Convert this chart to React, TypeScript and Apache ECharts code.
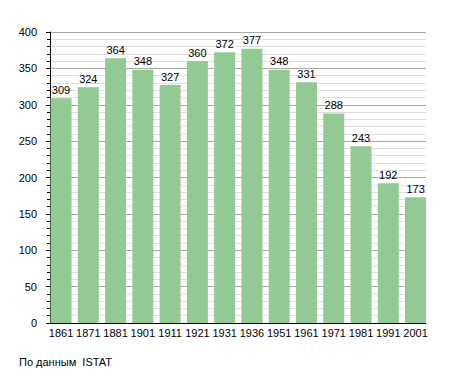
import React, { useEffect, useRef } from "react";
import * as echarts from "echarts";

const years = ["1861", "1871", "1881", "1901", "1911", "1921", "1931", "1936", "1951", "1961", "1971", "1981", "1991", "2001"];
const population = [309, 324, 364, 348, 327, 360, 372, 377, 348, 331, 288, 243, 192, 173];
const yMin = 0;
const yMax = 400;
const yStep = 50;
const sourceNote = "По данным  ISTAT";

export default function App() {
  const ref = useRef<HTMLDivElement>(null);
  useEffect(() => {
    if (!ref.current) return;
    const chart = echarts.init(ref.current, null, { renderer: "svg" });
    const font = "'Liberation Sans', Arial, sans-serif";
    chart.setOption({
      animation: false,
      backgroundColor: "#ffffff",
      grid: [
        { left: 50, width: 376, top: 32, height: 291 },
        { left: 47.4, width: 381.8, top: 32, height: 291 },
      ],
      xAxis: [
        {
          gridIndex: 0,
          type: "value",
          min: 0,
          max: 1,
          axisLine: { show: true, lineStyle: { color: "#000", width: 1 } },
          axisTick: { show: false },
          axisLabel: { show: false },
          splitLine: { show: false },
        },
        {
          gridIndex: 1,
          type: "category",
          data: years,
          axisLine: { show: false },
          axisTick: { show: false },
          axisLabel: { color: "#000", fontSize: 11, fontFamily: font, margin: 4, interval: 0 },
        },
      ],
      yAxis: [
        {
          gridIndex: 0,
          type: "value",
          min: yMin,
          max: yMax,
          interval: yStep,
          axisLine: { show: true, lineStyle: { color: "#000", width: 1 } },
          axisTick: { show: true, length: 4, lineStyle: { color: "#000" } },
          minorTick: { show: true, splitNumber: 5, length: 3, lineStyle: { color: "#000" } },
          axisLabel: { color: "#000", fontSize: 11, fontFamily: font, margin: 13 },
          splitLine: { show: true, lineStyle: { color: "#a8a8a8", width: 1 } },
          minorSplitLine: { show: true, lineStyle: { color: "#dedede", width: 1 } },
        },
        {
          gridIndex: 1,
          type: "value",
          min: yMin,
          max: yMax,
          show: false,
          splitLine: { show: false },
        },
      ],
      series: [
        {
          type: "bar",
          xAxisIndex: 1,
          yAxisIndex: 1,
          data: population,
          barWidth: 21,
          itemStyle: { color: "#93c993" },
          label: {
            show: true,
            position: "top",
            distance: 3,
            color: "#000",
            fontSize: 11,
            fontFamily: font,
          },
        },
      ],
      graphic: [
        {
          type: "text",
          left: 19,
          top: 356,
          style: { text: sourceNote, fill: "#000", fontSize: 11, fontFamily: font },
        },
      ],
    });
    return () => chart.dispose();
  }, []);
  return (
    <div
      ref={ref}
      style={{ position: "fixed", left: 0, top: 0, width: 455, height: 373 }}
    />
  );
}
